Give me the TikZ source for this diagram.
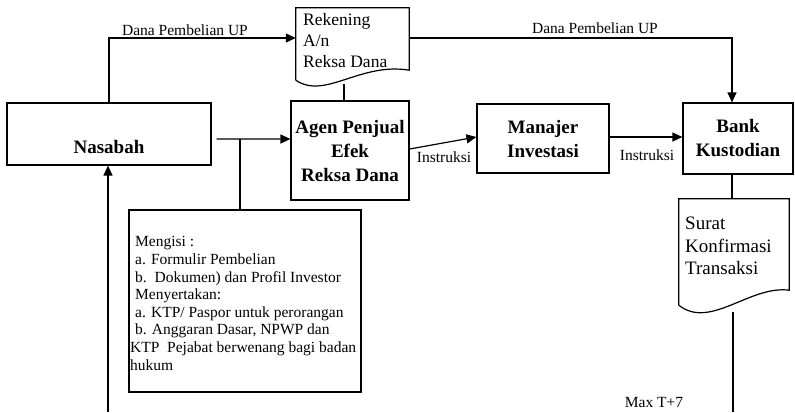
\documentclass[tikz,border=0pt]{standalone}
\usepackage{fontspec}
\setmainfont{Liberation Serif}
\usetikzlibrary{arrows.meta,calc}
\tikzset{
  boxnode/.style={draw,line width=1.2bp,inner sep=0pt},
  boldtxt/.style={font=\fontsize{19bp}{24bp}\selectfont\bfseries,align=center,inner sep=0pt},
  doctxt/.style={font=\fontsize{17.5bp}{21bp}\selectfont,align=left,inner sep=0pt,anchor=west},
  surtxt/.style={font=\fontsize{19bp}{22.5bp}\selectfont,align=left,inner sep=0pt,anchor=west},
  lbl/.style={font=\fontsize{15.5bp}{18bp}\selectfont,inner sep=0pt},
  conn/.style={line width=1.2bp},
  arr/.style={line width=1.2bp,-{Triangle[length=10bp,width=9bp]}}
}
\begin{document}
\begin{tikzpicture}[x=1bp,y=-1bp]
\useasboundingbox (0,0) rectangle (795,412);
% boxes
\node[boxnode,minimum width=204bp,minimum height=62bp] (nas) at (109,134) {};
\node[boldtxt] (nastext) at (109,147) {Nasabah};
\node[boxnode,minimum width=118bp,minimum height=99bp,boldtxt,draw,line width=1.2bp] (agen) at (350,150.5) {Agen Penjual\\Efek\\Reksa Dana};
\node[boxnode,minimum width=132bp,minimum height=69bp,boldtxt,draw,line width=1.2bp] (man) at (543,138.5) {Manajer\\Investasi};
\node[boxnode,minimum width=110bp,minimum height=71bp,boldtxt,draw,line width=1.2bp] (bank) at (738,138.5) {Bank\\Kustodian};
\node[boxnode,minimum width=232bp,minimum height=182bp] (isi) at (245,301) {};
\node[lbl,align=left,anchor=west,font=\fontsize{15.5bp}{17.6bp}\selectfont] (isitext) at (130,303.5) {%
\hspace{5bp}Mengisi :\\
\hspace{5bp}a. Formulir Pembelian\\
\hspace{5bp}b.\ \ Dokumen) dan Profil Investor\\
\hspace{5bp}Menyertakan:\\
\hspace{5bp}a. KTP/ Paspor untuk perorangan\\
\hspace{5bp}b. Anggaran Dasar, NPWP dan\\
KTP\ \ Pejabat berwenang bagi badan\\
hukum};
% document shapes
\node[minimum width=113bp,minimum height=72bp,inner sep=0pt] (rek) at (352.5,44) {};
\draw[conn] (rek.south west) -- (rek.north west) -- (rek.north east) -- ($(rek.south east)+(0,-10)$)
  .. controls (360,62) and (325,100) .. (rek.south west);
\node[doctxt] (rektext) at (303,41) {Rekening\\A/n\\Reksa Dana};
\node[minimum width=110bp,minimum height=106bp,inner sep=0pt] (sur) at (734,252) {};
\draw[conn] (sur.south west) -- (sur.north west) -- (sur.north east) -- ($(sur.south east)+(0,-15)$)
  .. controls (750,285) and (710,330) .. (sur.south west);
\node[surtxt] (surtext) at (685,246) {Surat\\Konfirmasi\\Transaksi};
% coordinates
\coordinate (rekbot) at (344,84);
\coordinate (surbot) at (733,312);
\coordinate (bot1) at (108,412);
\coordinate (bot2) at (733,412);
\coordinate (tee) at (240,139);
% connectors
\draw[arr] (nas.north) |- ([yshift=6bp]rek.west);
\draw[arr] ([yshift=6bp]rek.east) -| ([xshift=-6bp]bank.north);
\draw[conn] (rekbot) -- (rekbot |- agen.north);
\draw[arr] ([yshift=-5bp]nas.east) ++(5,0) -- (agen.west |- tee);
\draw[conn] (tee) -- (tee |- isi.north);
\draw[arr] (bot1) -- (bot1 |- nas.south);
\draw[arr] ([yshift=1.5bp]agen.east) -- ([yshift=1.5bp]man.west);
\draw[arr] ([yshift=1.5bp]man.east) -- ([yshift=1.5bp]bank.west);
\draw[conn] ([xshift=-6bp]bank.south) -- ([xshift=-6bp]bank.south |- sur.north);
\draw[conn] (surbot) -- (bot2);
% labels
\node[lbl] (l1) at (185,30) {Dana Pembelian UP};
\node[lbl] (l2) at (595,28) {Dana Pembelian UP};
\node[lbl] (l3) at (444,157) {Instruksi};
\node[lbl] (l4) at (647,155) {Instruksi};
\node[lbl,anchor=base] (l5) at (654,407.5) {Max T+7};
\end{tikzpicture}
\end{document}
